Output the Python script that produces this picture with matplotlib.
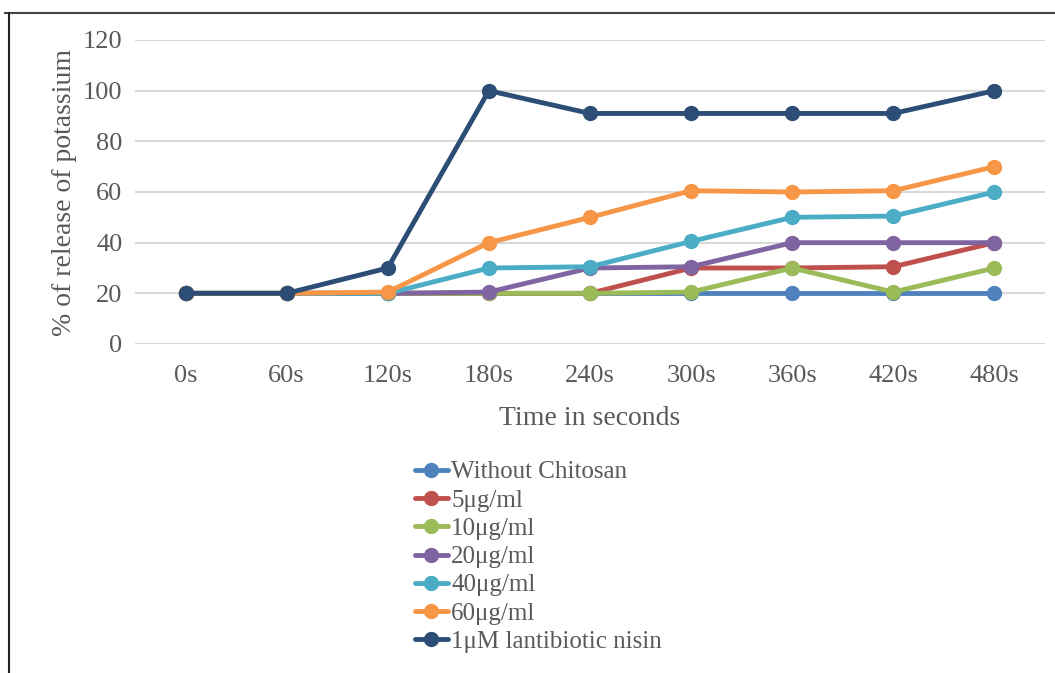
import matplotlib
matplotlib.use("Agg")
import matplotlib.pyplot as plt
from matplotlib.lines import Line2D

plt.rcParams['font.family'] = ['Liberation Serif', 'DejaVu Serif']

times = ["0s", "60s", "120s", "180s", "240s", "300s", "360s", "420s", "480s"]
without_chitosan = [20, 20, 20, 20, 20, 20, 20, 20, 20]
c5 = [20, 20, 20, 20, 20, 30, 30, 30.5, 40]
c10 = [20, 20, 20, 20, 20, 20.5, 30, 20.5, 30]
c20 = [20, 20, 20, 20.5, 30, 30.5, 40, 40, 40]
c40 = [20, 20, 20, 30, 30.5, 40.5, 50, 50.5, 60]
c60 = [20, 20, 20.5, 40, 50, 60.5, 60, 60.5, 70]
nisin = [20, 20, 30, 100, 91, 91, 91, 91, 100]

series = [
    ("Without Chitosan", without_chitosan, "#4F81BD"),
    ("5\u03bcg/ml", c5, "#C0504D"),
    ("10\u03bcg/ml", c10, "#9BBB59"),
    ("20\u03bcg/ml", c20, "#8064A2"),
    ("40\u03bcg/ml", c40, "#4BACC6"),
    ("60\u03bcg/ml", c60, "#F79646"),
    ("1\u03bcM lantibiotic nisin", nisin, "#2C4D75"),
]

fig = plt.figure(figsize=(10.55, 6.73), dpi=100)
ax = fig.add_axes([135/1055, 1-344/673, 910/1055, 304/673])

x = list(range(len(times)))
for name, vals, col in series:
    ax.plot(x, vals, color=col, lw=3.5, marker='o', ms=10, label=name,
            solid_capstyle='round', solid_joinstyle='round')

ax.set_xlim(-0.5, len(times) - 0.5)
ax.set_ylim(0, 120)
ax.set_yticks(range(0, 121, 20))
ax.set_xticks(x)
ax.set_xticklabels(times)
for s in ax.spines.values():
    s.set_visible(False)
ax.yaxis.grid(True, color="#D9D9D9", lw=1.5)
ax.set_axisbelow(True)
ax.tick_params(axis='both', length=0, labelsize=19, colors="#595959")
ax.tick_params(axis='x', pad=15)
ax.tick_params(axis='y', pad=9)
ax.set_xlabel("Time in seconds", fontsize=20, color="#595959", labelpad=14)
ax.set_ylabel("% of release of potassium", fontsize=20, color="#595959", labelpad=4)

leg = fig.legend(loc='upper left', bbox_to_anchor=(415/1055, 1-461/673),
                 frameon=False, fontsize=18, handlelength=1.3, handletextpad=0.15,
                 labelspacing=0.23, borderaxespad=0, borderpad=0)
for t in leg.get_texts():
    t.set_color("#595959")

fig.add_artist(Line2D([5/1055, 1], [1-13/673, 1-13/673], color="#444444", lw=1.5))
fig.add_artist(Line2D([9/1055, 9/1055], [0, 1-13/673], color="#222222", lw=1.5))

fig.savefig("out.png", dpi=100, facecolor="white")
